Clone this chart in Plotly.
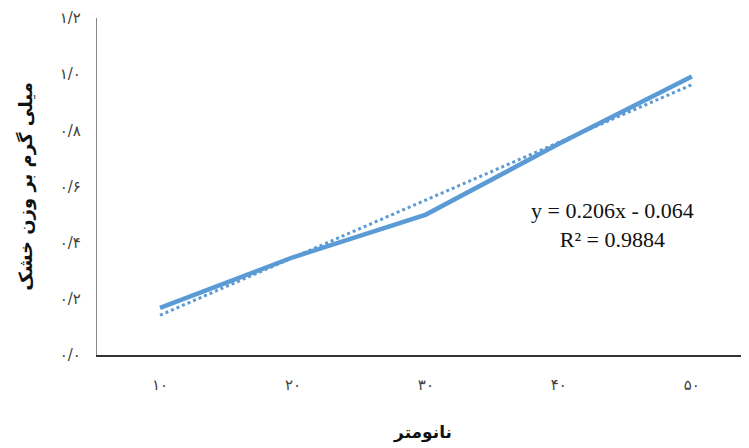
import numpy as np
import plotly.graph_objects as go

# Data
x_vals = [10, 20, 30, 40, 50]
x_labels = ["۱۰", "۲۰", "۳۰", "۴۰", "۵۰"]
y_vals = [0.168, 0.348, 0.500, 0.752, 0.992]
y_ticks = [0.0, 0.2, 0.4, 0.6, 0.8, 1.0, 1.2]
y_labels = ["۰/۰", "۰/۲", "۰/۴", "۰/۶", "۰/۸", "۱/۰", "۱/۲"]
eq_text = "y = 0.206x - 0.064<br>R² = 0.9884"
x_title = "نانومتر"
y_title = "میلی گرم بر وزن خشک"

# linear trendline over category index (1..5), as in the spreadsheet fit
idx = np.arange(1, len(x_vals) + 1)
slope, intercept = np.polyfit(idx, y_vals, 1)
trend = slope * idx + intercept

color = "#5B9BD5"

fig = go.Figure()
fig.add_trace(go.Scatter(x=x_vals, y=y_vals, mode="lines",
                         line=dict(color=color, width=4.5),
                         showlegend=False))
fig.add_trace(go.Scatter(x=x_vals, y=trend, mode="lines",
                         line=dict(color=color, width=3, dash="dot"),
                         showlegend=False))

fig.add_annotation(x=0.79, y=0.385, xref="paper", yref="paper",
                   xanchor="center", yanchor="middle",
                   text=eq_text, showarrow=False, align="center",
                   font=dict(family="Liberation Serif", size=22, color="#111111"))

fig.update_layout(
    width=741, height=440,
    margin=dict(l=89, r=0, t=10, b=93),
    paper_bgcolor="white", plot_bgcolor="white",
    xaxis=dict(range=[5.26, 54.3], tickvals=x_vals, ticktext=x_labels,
               automargin=False,
               showgrid=False, zeroline=False, showline=True,
               linecolor="#333333", linewidth=2, ticks="",
               ticklabelstandoff=15,
               tickfont=dict(family="DejaVu Sans", size=15, color="#404040"),
               title=dict(text="<b>" + x_title + "</b>", standoff=33,
                          font=dict(family="DejaVu Sans", size=17, color="#111111"))),
    yaxis=dict(range=[0, 1.2], tickvals=y_ticks, ticktext=y_labels,
               automargin=False, ticklabeloverflow="allow",
               showgrid=False, zeroline=False, showline=True,
               linecolor="#888888", linewidth=1.2, ticks="",
               ticklabelstandoff=12,
               tickfont=dict(family="DejaVu Sans", size=15, color="#404040"),
               title=dict(text="<b>" + y_title + "</b>", standoff=22,
                          font=dict(family="DejaVu Sans", size=18, color="#111111"))),
)

fig.write_html("out.html")
